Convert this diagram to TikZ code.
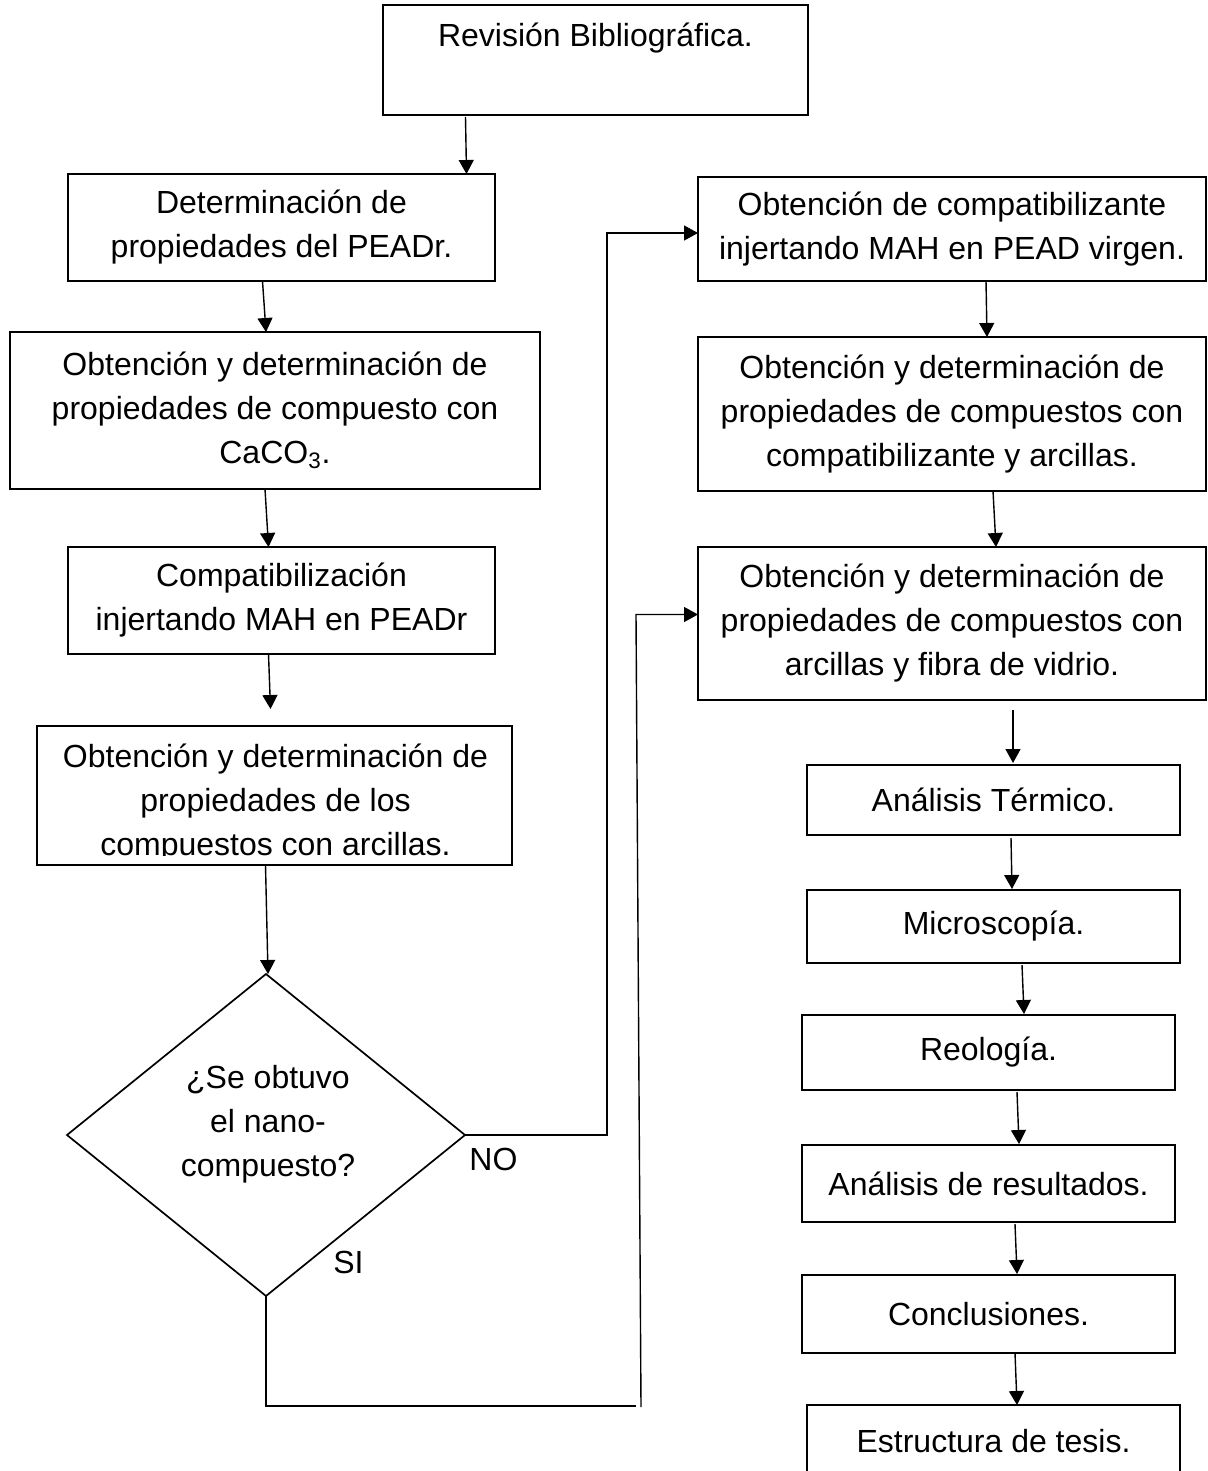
\documentclass[tikz,border=0pt]{standalone}
\usepackage{fontspec}
\setmainfont{Liberation Sans}
\usetikzlibrary{arrows.meta,shapes.geometric}

\begin{document}
\begin{tikzpicture}[x=0.5pt, y=-0.5pt,
    font=\fontsize{16}{22}\selectfont,
    box/.style={draw, line width=0.85pt, inner sep=0pt, outer sep=0pt, align=center},
    arr/.style={-{Triangle[length=7pt,width=7.5pt]}, line width=0.7pt}]

    \useasboundingbox (0,0) rectangle (1207,1471);

    % Left column
    \node[box, minimum width=212.5pt, minimum height=55pt] (rev) at (595.5,60)
        {\strut Revisión Bibliográfica.\\ \strut};
    \node[box, minimum width=213.5pt, minimum height=53.5pt] (det) at (281.5,227.5)
        {Determinación de\\propiedades del PEADr.};
    \node[box, minimum width=265pt, minimum height=78.5pt] (caco) at (275,410.5)
        {Obtención y determinación de\\propiedades de compuesto con\\CaCO\textsubscript{3}.};
    \node[box, minimum width=213.5pt, minimum height=53.5pt] (comp) at (281.5,600.5)
        {Compatibilización\\injertando MAH en PEADr};
    \node[box, minimum width=237.5pt, minimum height=69.5pt] (arc) at (274.5,795.5) {};
    \begin{scope}
        \clip (arc.north west) rectangle ([shift={(0,-10)}]arc.south east);
        \node[align=center] (arctxt) at ([shift={(1,8)}]arc.center)
            {Obtención y determinación de\\propiedades de los\\compuestos con arcillas.};
    \end{scope}

    % Decision
    \node[diamond, draw, line width=0.85pt, inner sep=0pt, outer sep=0pt,
        minimum width=199pt, minimum height=161pt] (dec) at (266,1135) {};
    \node[align=center] (dectxt) at ([shift={(2,-11)}]dec.center)
        {¿Se obtuvo\\el nano-\\compuesto?};
    \node[anchor=base west, inner sep=0pt] (no) at ([shift={(4,35)}]dec.east) {NO};
    \node[anchor=base west, inner sep=0pt] (si) at ([shift={(67,-23)}]dec.south) {SI};

    % Right column
    \node[box, minimum width=254pt, minimum height=52pt] (obt) at (952,229)
        {Obtención de compatibilizante\\injertando MAH en PEAD virgen.};
    \node[box, minimum width=254pt, minimum height=77pt] (arcomp) at (952,414)
        {Obtención y determinación de\\propiedades de compuestos con\\compatibilizante y arcillas.};
    \node[box, minimum width=254pt, minimum height=76.5pt] (fibra) at (952,623.5)
        {Obtención y determinación de\\propiedades de compuestos con\\arcillas y fibra de vidrio.};
    \node[box, minimum width=186.5pt, minimum height=35pt] (term) at (993.5,800) {Análisis Térmico.};
    \node[box, minimum width=186.5pt, minimum height=36.5pt] (micro) at (993.5,926.5) {Microscopía.};
    \node[box, minimum width=186.5pt, minimum height=37.5pt] (reo) at (988.5,1052.5) {Reología.};
    \node[box, minimum width=186.5pt, minimum height=38.5pt] (res) at (988.5,1183.5) {Análisis de resultados.};
    \node[box, minimum width=186.5pt, minimum height=39pt] (concl) at (988.5,1314) {Conclusiones.};
    \node[box, minimum width=186.5pt, minimum height=36pt] (tesis) at (993.5,1441) {Estructura de tesis.};

    % Arrows, left column
    \draw[arr] ([shift={(-130,2)}]rev.south) -- ([shift={(185,0)}]det.north);
    \draw[arr] ([shift={(-19,0)}]det.south) -- ([shift={(-9,0)}]caco.north);
    \draw[arr] ([shift={(-10,0)}]caco.south) -- ([shift={(-13,0)}]comp.north);
    \draw[arr] ([shift={(-13,0)}]comp.south) -- ([shift={(-4,-17)}]arc.north);
    \draw[arr] ([shift={(-9,0)}]arc.south) -- ([shift={(2,0)}]dec.north);

    % NO branch
    \coordinate (nobend) at ([shift={(-91,4)}]obt.west);
    \draw[arr] (dec.east) -| (nobend) -- (nobend -| obt.west);

    % SI branch
    \coordinate (sicorner) at ([shift={(0,110)}]dec.south);
    \coordinate (sibend) at ([shift={(-62,-9)}]fibra.west);
    \draw[line width=0.7pt] (dec.south) -- (sicorner) -- (sicorner -| sibend);
    \path (sicorner -| sibend) ++(5,1) coordinate (sifoot);
    \draw[arr] (sifoot) -- (sibend) -- (sibend -| fibra.west);

    % Arrows, right column
    \draw[arr] ([shift={(34,0)}]obt.south) -- ([shift={(35,0)}]arcomp.north);
    \draw[arr] ([shift={(41,0)}]arcomp.south) -- ([shift={(44,0)}]fibra.north);
    \draw[arr] ([shift={(61,10)}]fibra.south) -- ([shift={(19.5,-2)}]term.north);
    \draw[arr] ([shift={(17.5,3)}]term.south) -- ([shift={(18.5,-1)}]micro.north);
    \draw[arr] ([shift={(28.5,2)}]micro.south) -- ([shift={(35.5,-1)}]reo.north);
    \draw[arr] ([shift={(28.5,2)}]reo.south) -- ([shift={(30.5,-1)}]res.north);
    \draw[arr] ([shift={(26.5,2)}]res.south) -- ([shift={(28.5,-1)}]concl.north);
    \draw[arr] ([shift={(26.5,0)}]concl.south) -- ([shift={(23.5,0)}]tesis.north);

\end{tikzpicture}
\end{document}
